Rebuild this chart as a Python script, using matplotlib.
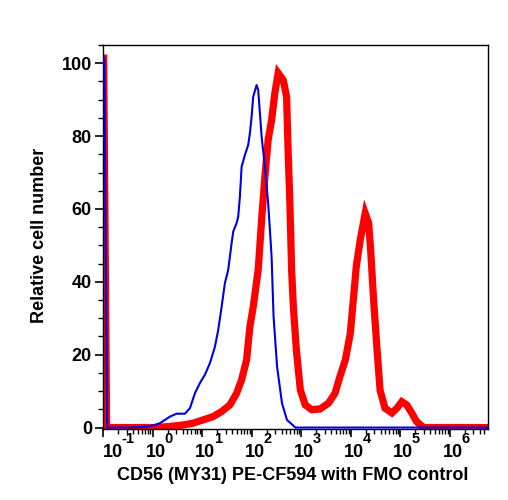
import matplotlib
matplotlib.use("Agg")
import matplotlib.pyplot as plt
from matplotlib.ticker import LogLocator, FixedLocator, MultipleLocator, NullFormatter
from matplotlib.transforms import ScaledTranslation, blended_transform_factory

plt.rcParams['font.family'] = ['Liberation Sans', 'DejaVu Sans']

# FMO control (blue)
fmo_x = [0.105, 0.120, 0.32, 0.877, 1.40, 2.22, 3.04, 4.46, 5.63, 7.10, 8.95, 11.3, 14.3,
         18.0, 21.0, 24.6, 28.6, 33.4, 39.1, 42.2, 49.3, 53.2, 57.5, 62.3, 72.6, 84.7,
         91.6, 99.1, 106.7, 125, 134.6, 145.8, 157.8, 184, 214, 232, 251, 275, 324,
         407, 513, 759, 5.9e6]
fmo_y = [101.4, 0, 0, 0.3, 1.2, 3.0, 3.8, 3.8, 5.3, 9.4, 12.2, 14.5, 17.7,
         22.2, 26.8, 33.2, 39.6, 43.3, 50.6, 53.8, 56.1, 57.9, 63.4, 71.6, 74.8, 77.6,
         80.8, 85.3, 90.8, 94.0, 92.7, 86.3, 79.9, 71.6, 61.6, 54.3, 46.9, 30.5, 16.7,
         6.7, 2.1, 0, 0]

# CD56 stained (red)
cd56_x = [0.102, 0.117, 1.12, 2.22, 4.12, 6.56, 10.4, 16.6, 24.6, 36.1, 49.3, 62.3, 78.5,
          91.6, 107, 134.6, 157.8, 184, 214, 251, 292, 341, 431, 504, 543, 588, 637,
          692, 794, 955, 1202, 1622, 2399, 3548, 4786, 6026, 7762, 9772, 11220, 12882,
          15488, 19498, 22909, 25119, 28840, 33884, 38905, 48978, 67608, 85114, 107152,
          134896, 169824, 213796, 295121, 5.9e6]
cd56_y = [101.4, 0, 0, 0.3, 0.7, 1.2, 2.1, 3.0, 4.4, 6.2, 9.4, 13.1, 18.6,
          27.7, 33.2, 43.3, 57.0, 68.9, 79.0, 84.4, 91.8, 97.3, 95.4, 90.8, 75.3, 61.6, 43.3,
          33.0, 21.3, 10.3, 6.2, 4.9, 5.1, 6.7, 9.4, 14.0, 18.6, 25.9, 35.0, 44.2,
          51.5, 58.8, 56.1, 48.8, 35.0, 21.3, 10.3, 5.3, 4.0, 5.3, 7.1,
          6.2, 4.0, 1.6, 0, 0]

x_ticks = [1e-1, 1e0, 1e1, 1e2, 1e3, 1e4, 1e5, 1e6]
x_tick_exponents = ['-1', '0', '1', '2', '3', '4', '5', '6']
y_ticks = [0, 20, 40, 60, 80, 100]

fig = plt.figure(figsize=(5.08, 5.0), dpi=100)
ax = fig.add_axes([103/508, 1-429/500, (488-103)/508, (429-45)/500])

ax.plot(cd56_x, cd56_y, color='#ff0000', lw=5.2, solid_joinstyle='miter', zorder=2)
ax.plot(fmo_x, fmo_y, color='#0000e0', lw=1.5, zorder=3)

ax.set_xscale('log')
ax.set_xlim(10**-1.005, 10**6.77)
ax.set_ylim(-0.4, 105)

ax.xaxis.set_major_locator(FixedLocator(x_ticks))
ax.xaxis.set_major_formatter(NullFormatter())
ax.xaxis.set_minor_locator(LogLocator(base=10, subs=range(2, 10), numticks=20))
ax.xaxis.set_minor_formatter(NullFormatter())
ax.set_yticks(y_ticks)
ax.yaxis.set_minor_locator(MultipleLocator(5))

for s in ax.spines.values():
    s.set_linewidth(1.0)

ax.tick_params(axis='both', which='major', direction='out', length=6, width=1.2,
               labelsize=13, pad=2)
ax.tick_params(axis='both', which='minor', direction='out', length=3.5, width=1.0)
for t in ax.get_yticklabels():
    t.set_fontweight('bold')

# x tick labels: "10" with a large superscript exponent
blend = blended_transform_factory(ax.transData, ax.transAxes)
px = 1/100
for i, (xt, ex) in enumerate(zip(x_ticks, x_tick_exponents)):
    base_right = 20 if i == 0 else 13
    tb = blend + ScaledTranslation(base_right*px, -28*px, fig.dpi_scale_trans)
    ax.text(xt, 0, '10', transform=tb, ha='right', va='baseline',
            fontsize=13, fontweight='bold', clip_on=False)
    ts = blend + ScaledTranslation((base_right - 1.5)*px, -14*px, fig.dpi_scale_trans)
    ax.text(xt, 0, ex, transform=ts, ha='left', va='baseline',
            fontsize=10.5, fontweight='bold', clip_on=False)

ax.set_xlabel('CD56 (MY31) PE-CF594 with FMO control', fontsize=13, fontweight='bold')
ax.xaxis.set_label_coords(0.492, -0.100)
ax.set_ylabel('Relative cell number', fontsize=13, fontweight='bold')
ax.yaxis.set_label_coords(-0.142, 0.504)

fig.savefig('out.png', dpi=100)
